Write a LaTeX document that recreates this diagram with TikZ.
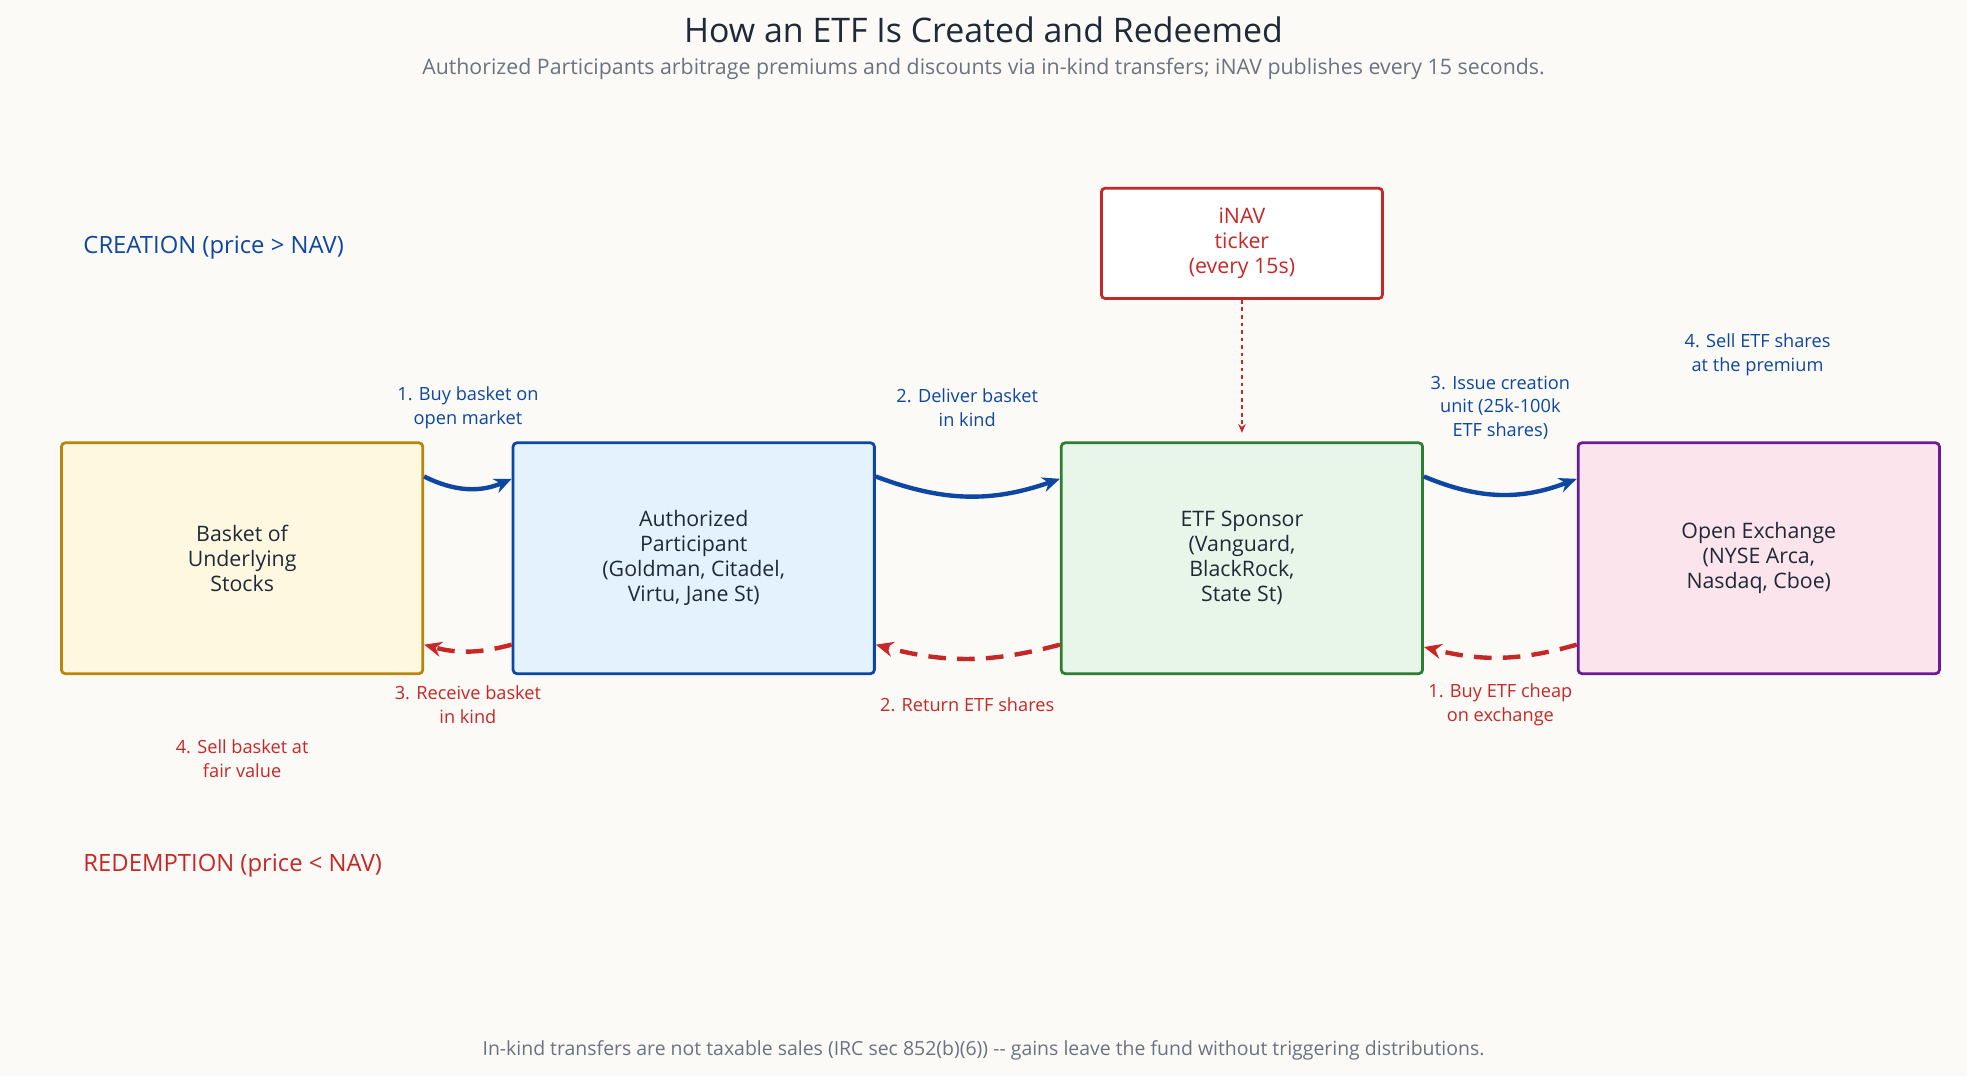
\documentclass[tikz,border=0pt]{standalone}
\usepackage{fontspec}
\setmainfont{Open Sans}
\usetikzlibrary{calc,arrows.meta}
\definecolor{bgc}{HTML}{FBFAF6}
\definecolor{ink}{HTML}{1F2937}
\definecolor{grayt}{HTML}{6B7280}
\definecolor{blu}{HTML}{0D47A1}
\definecolor{rd}{HTML}{C62828}
\tikzset{
  box/.style={draw, line width=2.2pt, rounded corners=3pt, minimum width=288pt, minimum height=184pt, align=center, font=\fontsize{17}{20}\selectfont, text=ink},
  create/.style={blu, line width=3.5pt, -{Stealth[length=14pt,width=12pt]}},
  redeem/.style={rd, line width=3.5pt, dash pattern=on 14pt off 9pt, -{Stealth[length=14pt,width=12pt]}},
  lblb/.style={text=blu, align=center, font=\fontsize{14.5}{19}\selectfont},
  lblr/.style={text=rd, align=center, font=\fontsize{14.5}{19}\selectfont}
}
\begin{document}
\begin{tikzpicture}[x=1pt,y=-1pt]
  \fill[bgc] (0,0) rectangle (1568,858);
  \node (title) at (784,24) {\fontsize{27}{30}\selectfont\textcolor{ink}{How an ETF Is Created and Redeemed}};
  \node (sub) at (784,55) {\fontsize{17}{20}\selectfont\textcolor{grayt}{Authorized Participants arbitrage premiums and discounts via in-kind transfers; iNAV publishes every 15 seconds.}};
  \node[anchor=west, text=blu, font=\fontsize{19}{22}\selectfont] (crea) at (63,197) {CREATION (price > NAV)};
  \node[anchor=west, text=rd, font=\fontsize{19}{22}\selectfont] (redm) at (63,690) {REDEMPTION (price < NAV)};

  % boxes
  \node[box, draw={rgb,255:red,184;green,134;blue,11}, fill={rgb,255:red,255;green,248;blue,225}] (basket) at (193,445) {Basket of\\Underlying\\Stocks};
  \node[box, draw=blu, fill={rgb,255:red,227;green,242;blue,253}] (ap) at (553,445) {Authorized\\Participant\\(Goldman, Citadel,\\Virtu, Jane St)};
  \node[box, draw={rgb,255:red,46;green,125;blue,50}, fill={rgb,255:red,232;green,245;blue,233}] (sponsor) at (990,445) {ETF Sponsor\\(Vanguard,\\BlackRock,\\State St)};
  \node[box, draw={rgb,255:red,106;green,27;blue,154}, fill={rgb,255:red,252;green,228;blue,236}] (exch) at (1402,445) {Open Exchange\\(NYSE Arca,\\Nasdaq, Cboe)};
  \node[box, draw=rd, fill=white, text=rd, minimum width=224pt, minimum height=88pt] (inav) at (990,194) {iNAV\\ticker\\(every 15s)};

  \coordinate (tick) at (990,345);
  \draw[rd, line width=1.3pt, dash pattern=on 3pt off 3pt, -{Stealth[length=7pt,width=6pt]}] (inav) -- (tick);

  % creation leg
  \draw[create] ($(basket.north east)!0.15!(basket.south east)$) to[bend right=25] ($(ap.north west)!0.16!(ap.south west)$);
  \draw[create] ($(ap.north east)!0.15!(ap.south east)$) to[bend right=20] ($(sponsor.north west)!0.16!(sponsor.south west)$);
  \draw[create] ($(sponsor.north east)!0.15!(sponsor.south east)$) to[bend right=22] ($(exch.north west)!0.16!(exch.south west)$);
  \node[lblb] (c1) at (373,325) {1. Buy basket on\\open market};
  \node[lblb] (c2) at (771,325) {2. Deliver basket\\in kind};
  \node[lblb] (c3) at (1196,325) {3. Issue creation\\unit (25k-100k\\ETF shares)};
  \node[lblb] (c4) at (1401,283) {4. Sell ETF shares\\at the premium};

  % redemption leg
  \draw[redeem] ($(ap.north west)!0.87!(ap.south west)$) to[bend left=15] ($(basket.north east)!0.87!(basket.south east)$);
  \draw[redeem] ($(sponsor.north west)!0.87!(sponsor.south west)$) to[bend left=15] ($(ap.north east)!0.87!(ap.south east)$);
  \draw[redeem] ($(exch.north west)!0.87!(exch.south west)$) to[bend left=15] ($(sponsor.north east)!0.88!(sponsor.south east)$);
  \node[lblr] (r3) at (373,562) {3. Receive basket\\in kind};
  \node[lblr] (r2) at (771,562) {2. Return ETF shares};
  \node[lblr] (r1) at (1196,562) {1. Buy ETF cheap\\on exchange};
  \node[lblr] (r4) at (193,605) {4. Sell basket at\\fair value};

  \node (foot) at (784,837) {\fontsize{15.5}{18}\selectfont\textcolor{grayt}{In-kind transfers are not taxable sales (IRC sec 852(b)(6)) -{}- gains leave the fund without triggering distributions.}};
\end{tikzpicture}
\end{document}
